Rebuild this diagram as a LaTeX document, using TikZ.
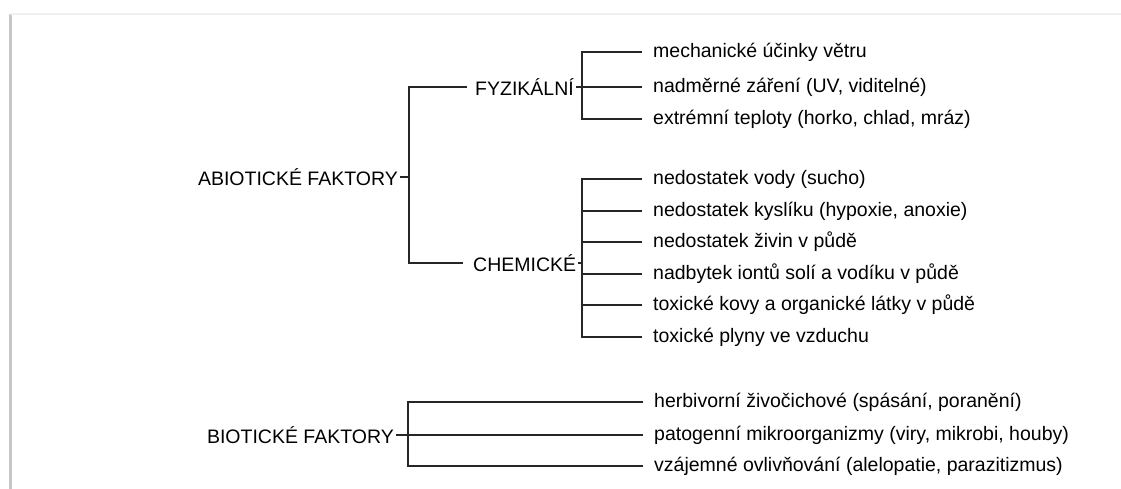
\documentclass[tikz,border=0pt]{standalone}
\usepackage{fontspec}
\setmainfont{Liberation Sans}
\begin{document}
\begin{tikzpicture}[x=1pt,y=-1pt,
  lbl/.style={inner ysep=0pt,inner xsep=2pt,font=\fontsize{19.5}{21}\selectfont,text=black},
  item/.style={lbl,anchor=west,inner xsep=11pt},
  link/.style={line width=1.8pt,black!85}]
\useasboundingbox (0,0) rectangle (1121,489);
\fill[white] (0,0) rectangle (1121,489);
% sheet edges
\draw[gray!45,line width=2.5pt] (10.5,14) -- (10.5,489);
\draw[gray!12,line width=1.5pt] (10,14) -- (1121,14);

% main categories
\node[lbl,anchor=east] (abio) at (400,177) {ABIOTICKÉ FAKTORY};
\node[lbl,anchor=west] (fyz) at (473,87) {FYZIKÁLNÍ};
\node[lbl,anchor=west] (chem) at (471,263) {CHEMICKÉ};
\node[lbl,anchor=east] (bio) at (396,435) {BIOTICKÉ FAKTORY};

% physical factors
\node[item] (f1) at (642,52) {mechanické účinky větru};
\node[item] (f2) at (642,87) {nadměrné záření (UV, viditelné)};
\node[item] (f3) at (642,119) {extrémní teploty (horko, chlad, mráz)};

% chemical factors
\node[item] (c1) at (642,179) {nedostatek vody (sucho)};
\node[item] (c2) at (642,211) {nedostatek kyslíku (hypoxie, anoxie)};
\node[item] (c3) at (642,242) {nedostatek živin v půdě};
\node[item] (c4) at (642,274) {nadbytek iontů solí a vodíku v půdě};
\node[item] (c5) at (642,305) {toxické kovy a organické látky v půdě};
\node[item] (c6) at (642,337) {toxické plyny ve vzduchu};

% biotic factors
\node[item] (b1) at (643,402) {herbivorní živočichové (spásání, poranění)};
\node[item] (b2) at (643,435) {patogenní mikroorganizmy (viry, mikrobi, houby)};
\node[item] (b3) at (643,466) {vzájemné ovlivňování (alelopatie, parazitizmus)};

% bracket spines
\coordinate (ax) at (409,0);
\coordinate (fx) at (582,0);
\coordinate (bx) at (408,0);

% abiotic bracket
\draw[link] (abio.east) -- (abio.east -| ax);
\draw[link] ([xshift=-6pt]fyz.west) -| (ax |- chem.west) -- ([xshift=-8pt]chem.west);

% physical bracket
\draw[link] (f1.west) -| (fx |- f3.west) -- (f3.west);
\draw[link] (fyz.east) -- (f2.west);

% chemical bracket
\draw[link] (c1.west) -| (fx |- c6.west) -- (c6.west);
\foreach \n in {c2,c3,c4,c5}
  \draw[link] (fx |- \n.west) -- (\n.west);
\draw[link] (chem.east) -- (chem.east -| fx);

% biotic bracket
\draw[link] (b1.west) -| (bx |- b3.west) -- (b3.west);
\draw[link] (bio.east) -- (b2.west);
\end{tikzpicture}
\end{document}
